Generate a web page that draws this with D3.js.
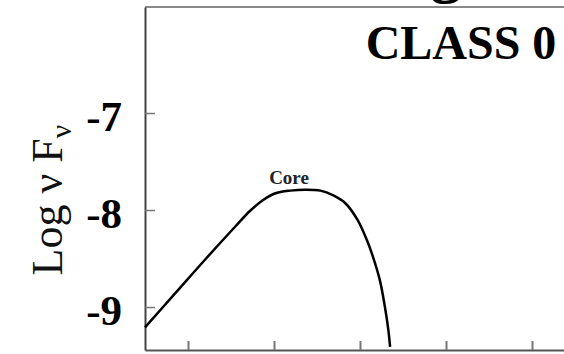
<!DOCTYPE html>
<html>
<head>
<meta charset="utf-8">
<script src="https://cdn.jsdelivr.net/npm/d3@7"></script>
<style>
  body { margin: 0; background: #fff; }
  text { font-family: "Liberation Serif", "Times New Roman", serif; }
</style>
</head>
<body>
<div id="sed"></div>
<script>
// SED curve of the core (log nu, log nu F_nu)
const logNu = [10.50, 10.85, 11.20, 11.55, 11.72, 11.87, 12.01, 12.19, 12.36, 12.54,
  12.69, 12.83, 12.97, 13.08, 13.15, 13.23, 13.29, 13.33, 13.35];
const logNuFnu = [-9.21, -8.86, -8.51, -8.17, -8.01, -7.90, -7.83, -7.80, -7.79, -7.80,
  -7.85, -7.93, -8.10, -8.31, -8.48, -8.72, -9.00, -9.24, -9.41];
const yTicks = [-7, -8, -9];
const xTicks = [11, 12, 13, 14, 15];

// set the dimensions of the graph
const width = 564, height = 354;
const margin = { top: 7, left: 145, bottom: 350 };

const svg = d3.select("#sed")
  .append("svg")
  .attr("width", width)
  .attr("height", height);

// scales
const x = d3.scaleLinear()
  .domain([10.5, 16])
  .range([margin.left, margin.left + 5.5 * 86]);

const y = d3.scaleLinear()
  .domain([-9.443, -5.907])
  .range([margin.bottom, margin.top]);

// top frame line
svg.append("line")
  .attr("x1", x.range()[0])
  .attr("x2", x.range()[1])
  .attr("y1", margin.top)
  .attr("y2", margin.top)
  .attr("stroke", "#888")
  .attr("stroke-width", 2);

// bottom axis, ticks pointing inward, no labels (cut off)
svg.append("g")
  .attr("transform", "translate(0," + margin.bottom + ")")
  .call(d3.axisBottom(x).tickValues(xTicks).tickSize(-9).tickSizeOuter(0).tickFormat(""))
  .call(g => g.select(".domain").attr("stroke", "#555").attr("stroke-width", 2))
  .call(g => g.selectAll(".tick line").attr("stroke", "#777").attr("stroke-width", 2));

// left axis
svg.append("g")
  .attr("transform", "translate(" + margin.left + ",0)")
  .call(d3.axisLeft(y).tickValues(yTicks).tickSize(-10).tickSizeOuter(0).tickPadding(23)
    .tickFormat(d => d))
  .call(g => g.select(".domain").attr("stroke", "#444").attr("stroke-width", 2))
  .call(g => g.selectAll(".tick line").attr("stroke", "#777").attr("stroke-width", 1.5))
  .call(g => g.selectAll(".tick text")
    .attr("dy", "0.4em")
    .attr("fill", "#000")
    .style("font-family", "'Liberation Serif', serif")
    .style("font-weight", "bold")
    .style("font-size", "43px"));

// y axis title: Log ν F_ν
const yTitle = svg.append("text")
  .attr("transform", "translate(62,200) rotate(-90)")
  .attr("text-anchor", "middle")
  .attr("fill", "#111")
  .style("font-size", "44px");
yTitle.append("tspan").text("Log ν F");
yTitle.append("tspan").attr("dy", 9).style("font-size", "30px").text("ν");

// the curve
const line = d3.line()
  .x((d, i) => x(logNu[i]))
  .y(d => y(d))
  .curve(d3.curveCatmullRom.alpha(0.5));

svg.append("path")
  .datum(logNuFnu)
  .attr("d", line)
  .attr("fill", "none")
  .attr("stroke", "#000")
  .attr("stroke-width", 2.5);

// labels
svg.append("text")
  .attr("x", 289)
  .attr("y", 184)
  .attr("text-anchor", "middle")
  .style("font-weight", "bold")
  .style("font-size", "19px")
  .attr("fill", "#222")
  .text("Core");

svg.append("text")
  .attr("x", 461)
  .attr("y", 59)
  .attr("text-anchor", "middle")
  .style("font-weight", "bold")
  .style("font-size", "48px")
  .attr("fill", "#000")
  .text("CLASS 0");

// bottom of the title glyph cut off above the frame
svg.append("text")
  .attr("x", 446)
  .attr("y", -10)
  .attr("text-anchor", "middle")
  .style("font-weight", "bold")
  .style("font-size", "64px")
  .attr("fill", "#000")
  .text("g");
</script>
</body>
</html>
